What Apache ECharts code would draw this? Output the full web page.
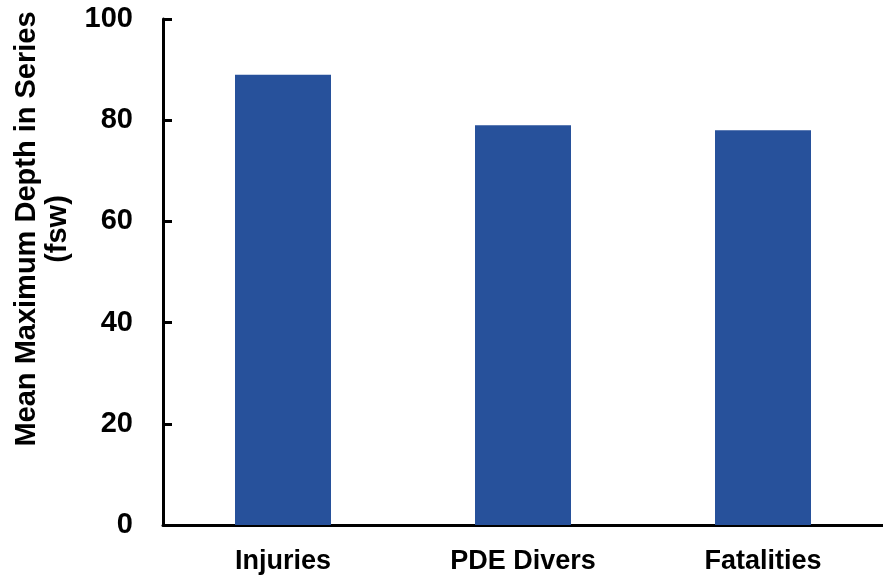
<!DOCTYPE html>
<html>
<head>
<meta charset="utf-8">
<script src="https://cdn.jsdelivr.net/npm/echarts@6/dist/echarts.min.js"></script>
<style>
html,body{margin:0;padding:0;background:#fff;}
#c{width:883px;height:581px;}
</style>
</head>
<body>
<div id="c"></div>
<script>
const categories = ['Injuries', 'PDE Divers', 'Fatalities'];
const values = [89, 79, 78];
const yTicks = { min: 0, max: 100, interval: 20 };
const yTitle = 'Mean Maximum Depth in Series\n(fsw)';

const chart = echarts.init(document.getElementById('c'), null, { renderer: 'canvas' });
const FONT = '"Liberation Sans", Arial, Helvetica, sans-serif';
chart.setOption({
  animation: false,
  backgroundColor: '#ffffff',
  grid: { left: 163, right: 0, top: 19, bottom: 56, containLabel: false },
  xAxis: {
    type: 'category',
    data: categories,
    axisLine: { lineStyle: { color: '#000', width: 3 } },
    axisTick: { show: false },
    axisLabel: { color: '#000', fontFamily: FONT, fontWeight: 'bold', fontSize: 27, margin: 23 }
  },
  yAxis: {
    type: 'value',
    min: yTicks.min, max: yTicks.max, interval: yTicks.interval,
    axisLine: { show: true, lineStyle: { color: '#000', width: 3 } },
    axisTick: { show: true, inside: true, length: 9, lineStyle: { color: '#000', width: 3 } },
    splitLine: { show: false },
    axisLabel: { color: '#000', fontFamily: FONT, fontWeight: 'bold', fontSize: 29, margin: 30 }
  },
  graphic: [{
    type: 'text',
    x: 42, y: 229,
    rotation: Math.PI / 2,
    style: {
      text: yTitle,
      font: 'bold 29px ' + FONT,
      textAlign: 'center',
      textVerticalAlign: 'middle',
      lineHeight: 31,
      fill: '#000'
    }
  }],
  series: [{
    type: 'bar',
    data: values,
    barWidth: '40%',
    itemStyle: { color: '#27519b' }
  }]
});
</script>
</body>
</html>
